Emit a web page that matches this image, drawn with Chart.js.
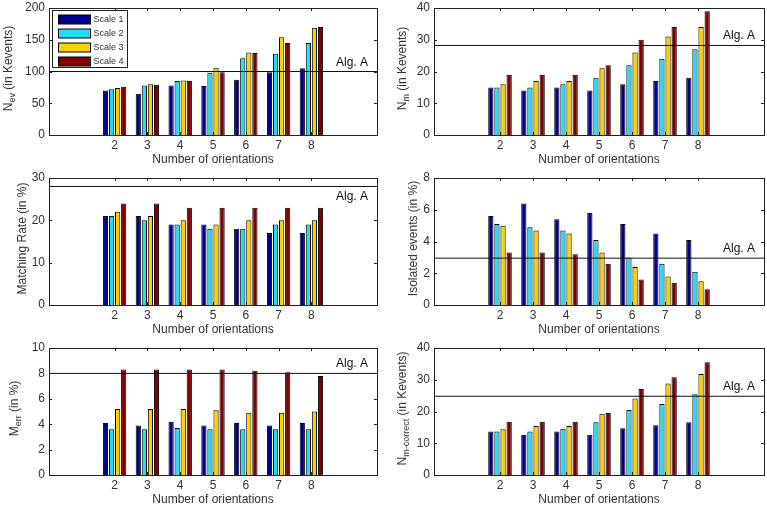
<!DOCTYPE html>
<html>
<head>
<meta charset="utf-8">
<script src="https://cdn.jsdelivr.net/npm/chart.js@4.4.1/dist/chart.umd.min.js"></script>
<style>
  html, body { margin: 0; padding: 0; background: #fff; overflow: hidden; }
  .panel { position: absolute; height: 170px; }
</style>
</head>
<body>
<div class="panel" style="left:0;top:2px;width:384px"><canvas id="p0"></canvas></div>
<div class="panel" style="left:384px;top:2px;width:383px"><canvas id="p1"></canvas></div>
<div class="panel" style="left:0;top:172px;width:384px"><canvas id="p2"></canvas></div>
<div class="panel" style="left:384px;top:172px;width:383px"><canvas id="p3"></canvas></div>
<div class="panel" style="left:0;top:342px;width:384px"><canvas id="p4"></canvas></div>
<div class="panel" style="left:384px;top:342px;width:383px"><canvas id="p5"></canvas></div>
<script>
const orientations = [2, 3, 4, 5, 6, 7, 8];
const scaleNames = ["Scale 1", "Scale 2", "Scale 3", "Scale 4"];
const scaleColors = ["#00008f", "#22dcf8", "#ffd000", "#800000"];

// one row per scale, one value per number of orientations
const nEv = [
  [70, 65, 78, 77, 87, 99, 105],
  [72, 78, 85, 98, 121, 128, 145],
  [74, 80, 86, 106, 130, 154, 169],
  [76, 79, 85, 99, 129, 145, 170],
];
const nM = [
  [15, 14, 15, 14, 16, 17, 18],
  [15, 15, 16, 18, 22, 24, 27],
  [16, 17, 17, 21, 26, 31, 34],
  [19, 19, 19, 22, 30, 34, 39],
];
const matchRate = [
  [21, 21, 19, 19, 18, 17, 17],
  [21, 20, 19, 18, 18, 19, 19],
  [22, 21, 20, 19, 20, 20, 20],
  [24, 24, 23, 23, 23, 23, 23],
];
const isolated = [
  [5.6, 6.4, 5.4, 5.8, 5.1, 4.5, 4.1],
  [5.1, 4.9, 4.7, 4.1, 3.0, 2.6, 2.1],
  [5.0, 4.7, 4.5, 3.3, 2.4, 1.8, 1.5],
  [3.3, 3.3, 3.2, 2.6, 1.6, 1.4, 1.0],
];
const mErr = [
  [4.1, 3.9, 4.2, 3.9, 4.1, 3.9, 4.1],
  [3.6, 3.6, 3.7, 3.6, 3.6, 3.6, 3.6],
  [5.2, 5.2, 5.2, 5.1, 4.9, 4.9, 5.0],
  [8.3, 8.3, 8.3, 8.3, 8.2, 8.1, 7.8],
];
const nCorrect = [
  [13.7, 12.7, 13.7, 12.7, 14.7, 15.7, 16.6],
  [13.7, 13.7, 14.6, 16.6, 20.5, 22.4, 25.4],
  [14.4, 15.4, 15.4, 19.3, 24.1, 28.8, 31.8],
  [16.8, 16.8, 16.8, 19.5, 27.1, 30.8, 35.5],
];
// reference level of Alg. A for each panel
const algA = [100, 28.2, 28, 2.95, 8, 24.8];

const FONT = '"Liberation Sans", Arial, sans-serif';
const TXT = "#333";
const BOX = "#222";

function drawYTitle(ctx, ca, parts, bx) {
  ctx.save();
  let total = 0;
  parts.forEach(p => {
    ctx.font = (p.sub ? 9 : 12) + "px " + FONT;
    p.w = ctx.measureText(p.t).width;
    total += p.w;
  });
  const cy = (ca.top + ca.bottom) / 2 - 3;
  ctx.translate(bx, cy + total / 2);
  ctx.rotate(-Math.PI / 2);
  ctx.fillStyle = TXT;
  ctx.textBaseline = "alphabetic";
  let x = 0;
  parts.forEach(p => {
    ctx.font = (p.sub ? 9 : 12) + "px " + FONT;
    ctx.fillText(p.t, x, p.sub ? 3 : 0);
    x += p.w;
  });
  ctx.restore();
}

function drawLegend(ctx, ca) {
  const x0 = ca.left + 3.5, y0 = ca.top + 2.5;
  ctx.save();
  ctx.fillStyle = "#fff";
  ctx.fillRect(x0, y0, 75, 57);
  ctx.strokeStyle = BOX;
  ctx.lineWidth = 1;
  ctx.strokeRect(x0, y0, 75, 57);
  ctx.font = "9px " + FONT;
  ctx.textBaseline = "middle";
  scaleNames.forEach((name, i) => {
    const cy = y0 + 9 + i * 14;
    ctx.fillStyle = scaleColors[i];
    ctx.fillRect(x0 + 6, cy - 4.5, 32, 9);
    ctx.strokeStyle = "#000";
    ctx.strokeRect(x0 + 6, cy - 4.5, 32, 9);
    ctx.fillStyle = TXT;
    ctx.fillText(name, x0 + 41, cy + 0.5);
  });
  ctx.restore();
}

function makePanel(id, values, alg, yMax, yStep, titleParts, titleX, right, algBelow, legend) {
  const frame = {
    id: "frame" + id,
    afterDraw(chart) {
      const ctx = chart.ctx, ca = chart.chartArea;
      const xs = chart.scales.x, ys = chart.scales.y;
      ctx.save();
      ctx.strokeStyle = BOX;
      ctx.lineWidth = 1;
      ctx.beginPath();
      orientations.forEach(v => {
        const px = Math.round(xs.getPixelForValue(v)) + 0.5;
        ctx.moveTo(px, ca.bottom); ctx.lineTo(px, ca.bottom - 3);
        ctx.moveTo(px, ca.top); ctx.lineTo(px, ca.top + 3);
      });
      ys.ticks.forEach(t => {
        const py = Math.round(ys.getPixelForValue(t.value)) + 0.5;
        ctx.moveTo(ca.left, py); ctx.lineTo(ca.left + 3, py);
        ctx.moveTo(ca.right, py); ctx.lineTo(ca.right - 3, py);
      });
      ctx.stroke();
      ctx.strokeRect(Math.round(ca.left) + 0.5, Math.round(ca.top) + 0.5,
        Math.round(ca.right - ca.left), Math.round(ca.bottom - ca.top));
      const ly = ys.getPixelForValue(alg);
      ctx.fillStyle = "#111";
      ctx.font = "12px " + FONT;
      ctx.textAlign = "right";
      ctx.textBaseline = "alphabetic";
      ctx.fillText("Alg. A", ca.right - 9, algBelow ? ly + 14 : ly - 6);
      ctx.restore();
      drawYTitle(ctx, ca, titleParts, titleX);
      if (legend) drawLegend(ctx, ca);
    },
  };

  const datasets = [{
    type: "line",
    label: "Alg. A",
    data: [{ x: 0, y: alg }, { x: 10, y: alg }],
    borderColor: "#111",
    borderWidth: 1,
    pointRadius: 0,
    order: -1,
  }];
  values.forEach((row, i) => {
    datasets.push({
      type: "bar",
      label: scaleNames[i],
      data: row.map((v, k) => ({ x: orientations[k], y: v })),
      backgroundColor: scaleColors[i],
      borderColor: "#000",
      borderWidth: 1,
      categoryPercentage: 0.74,
      barPercentage: 0.86,
    });
  });

  new Chart(document.getElementById(id), {
    type: "bar",
    data: { datasets },
    plugins: [frame],
    options: {
      responsive: true,
      maintainAspectRatio: false,
      animation: false,
      layout: { padding: { top: 6, left: 0, right: right, bottom: 0 } },
      plugins: { legend: { display: false }, tooltip: { enabled: false } },
      scales: {
        x: {
          type: "linear",
          min: 0,
          max: 10,
          offset: false,
          afterBuildTicks(s) { s.ticks = orientations.map(v => ({ value: v })); },
          afterFit(s) { s.height = 37; s.paddingLeft = 0; s.paddingRight = 0; },
          ticks: { color: TXT, font: { family: FONT, size: 12 }, padding: 3, autoSkip: false, maxRotation: 0 },
          grid: { display: false, drawTicks: false },
          border: { display: false },
          title: {
            display: true,
            text: "Number of orientations",
            color: TXT,
            font: { family: FONT, size: 12 },
            padding: { top: 0, bottom: 5 },
          },
        },
        y: {
          min: 0,
          max: yMax,
          afterFit(s) {
            s.width = id === "p0" || id === "p2" || id === "p4" ? 49 : 50;
            s.paddingTop = 0;
            s.paddingBottom = 0;
          },
          ticks: { stepSize: yStep, color: TXT, font: { family: FONT, size: 12 }, padding: 4 },
          grid: { display: false, drawTicks: false },
          border: { display: false },
        },
      },
    },
  });
}

makePanel("p0", nEv, algA[0], 200, 50,
  [{ t: "N" }, { t: "ev", sub: true }, { t: " (in Kevents)" }], 12, 7, false, true);
makePanel("p1", nM, algA[1], 40, 10,
  [{ t: "N" }, { t: "m", sub: true }, { t: " (in Kevents)" }], 22, 3, false, false);
makePanel("p2", matchRate, algA[2], 30, 10,
  [{ t: "Matching Rate (in %)" }], 26, 7, true, false);
makePanel("p3", isolated, algA[3], 8, 2,
  [{ t: "Isolated events (in %)" }], 33, 3, false, false);
makePanel("p4", mErr, algA[4], 10, 2,
  [{ t: "M" }, { t: "err", sub: true }, { t: " (in %)" }], 18, 7, false, false);
makePanel("p5", nCorrect, algA[5], 40, 10,
  [{ t: "N" }, { t: "m-correct", sub: true }, { t: " (in Kevents)" }], 22, 3, false, false);
</script>
</body>
</html>
